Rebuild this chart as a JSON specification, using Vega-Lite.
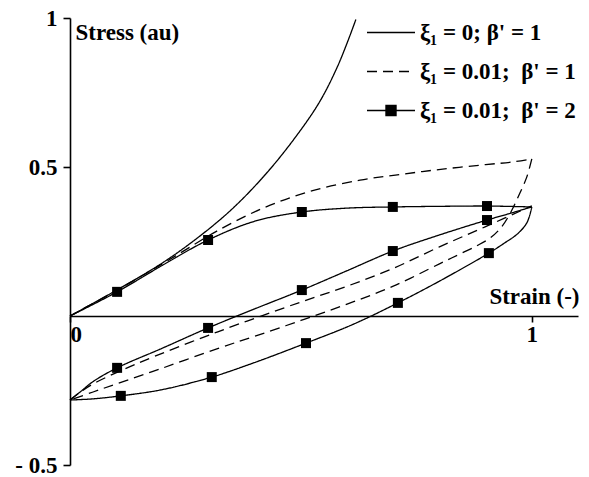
{
  "$schema": "https://vega.github.io/schema/vega-lite/v6.json",
  "width": 508,
  "height": 447,
  "autosize": {"type": "none"},
  "padding": {"left": 70, "top": 18, "right": 11, "bottom": 12},
  "background": "white",
  "datasets": {
    "curves": [
      {"s": "ξ₁ = 0; β' = 1", "b": "A1", "i": 0, "x": 0, "y": 0},
      {"s": "ξ₁ = 0; β' = 1", "b": "A1", "i": 1, "x": 0.1, "y": 0.086},
      {"s": "ξ₁ = 0; β' = 1", "b": "A1", "i": 2, "x": 0.2, "y": 0.178},
      {"s": "ξ₁ = 0; β' = 1", "b": "A1", "i": 3, "x": 0.281, "y": 0.268},
      {"s": "ξ₁ = 0; β' = 1", "b": "A1", "i": 4, "x": 0.353, "y": 0.362},
      {"s": "ξ₁ = 0; β' = 1", "b": "A1", "i": 5, "x": 0.426, "y": 0.48},
      {"s": "ξ₁ = 0; β' = 1", "b": "A1", "i": 6, "x": 0.491, "y": 0.606},
      {"s": "ξ₁ = 0; β' = 1", "b": "A1", "i": 7, "x": 0.541, "y": 0.72},
      {"s": "ξ₁ = 0; β' = 1", "b": "A1", "i": 8, "x": 0.578, "y": 0.833},
      {"s": "ξ₁ = 0; β' = 1", "b": "A1", "i": 9, "x": 0.602, "y": 0.924},
      {"s": "ξ₁ = 0; β' = 1", "b": "A1", "i": 10, "x": 0.619, "y": 0.995},

      {"s": "ξ₁ = 0.01;\u00a0\u00a0β' = 1", "b": "B1", "i": 0, "x": 0, "y": 0},
      {"s": "ξ₁ = 0.01;\u00a0\u00a0β' = 1", "b": "B1", "i": 1, "x": 0.1, "y": 0.085},
      {"s": "ξ₁ = 0.01;\u00a0\u00a0β' = 1", "b": "B1", "i": 2, "x": 0.2, "y": 0.175},
      {"s": "ξ₁ = 0.01;\u00a0\u00a0β' = 1", "b": "B1", "i": 3, "x": 0.25, "y": 0.222},
      {"s": "ξ₁ = 0.01;\u00a0\u00a0β' = 1", "b": "B1", "i": 4, "x": 0.318, "y": 0.285},
      {"s": "ξ₁ = 0.01;\u00a0\u00a0β' = 1", "b": "B1", "i": 5, "x": 0.418, "y": 0.362},
      {"s": "ξ₁ = 0.01;\u00a0\u00a0β' = 1", "b": "B1", "i": 6, "x": 0.519, "y": 0.418},
      {"s": "ξ₁ = 0.01;\u00a0\u00a0β' = 1", "b": "B1", "i": 7, "x": 0.628, "y": 0.456},
      {"s": "ξ₁ = 0.01;\u00a0\u00a0β' = 1", "b": "B1", "i": 8, "x": 0.72, "y": 0.476},
      {"s": "ξ₁ = 0.01;\u00a0\u00a0β' = 1", "b": "B1", "i": 9, "x": 0.807, "y": 0.493},
      {"s": "ξ₁ = 0.01;\u00a0\u00a0β' = 1", "b": "B1", "i": 10, "x": 0.9, "y": 0.508},
      {"s": "ξ₁ = 0.01;\u00a0\u00a0β' = 1", "b": "B1", "i": 11, "x": 0.959, "y": 0.517},
      {"s": "ξ₁ = 0.01;\u00a0\u00a0β' = 1", "b": "B1", "i": 12, "x": 1.0, "y": 0.527},

      {"s": "ξ₁ = 0.01;\u00a0\u00a0β' = 1", "b": "B2", "i": 0, "x": 1.0, "y": 0.527},
      {"s": "ξ₁ = 0.01;\u00a0\u00a0β' = 1", "b": "B2", "i": 1, "x": 0.989, "y": 0.466},
      {"s": "ξ₁ = 0.01;\u00a0\u00a0β' = 1", "b": "B2", "i": 2, "x": 0.974, "y": 0.412},
      {"s": "ξ₁ = 0.01;\u00a0\u00a0β' = 1", "b": "B2", "i": 3, "x": 0.955, "y": 0.35},
      {"s": "ξ₁ = 0.01;\u00a0\u00a0β' = 1", "b": "B2", "i": 4, "x": 0.935, "y": 0.3},
      {"s": "ξ₁ = 0.01;\u00a0\u00a0β' = 1", "b": "B2", "i": 5, "x": 0.91, "y": 0.262},
      {"s": "ξ₁ = 0.01;\u00a0\u00a0β' = 1", "b": "B2", "i": 6, "x": 0.88, "y": 0.235},
      {"s": "ξ₁ = 0.01;\u00a0\u00a0β' = 1", "b": "B2", "i": 7, "x": 0.84, "y": 0.205},
      {"s": "ξ₁ = 0.01;\u00a0\u00a0β' = 1", "b": "B2", "i": 8, "x": 0.8, "y": 0.175},
      {"s": "ξ₁ = 0.01;\u00a0\u00a0β' = 1", "b": "B2", "i": 9, "x": 0.7, "y": 0.1},
      {"s": "ξ₁ = 0.01;\u00a0\u00a0β' = 1", "b": "B2", "i": 10, "x": 0.6, "y": 0.04},
      {"s": "ξ₁ = 0.01;\u00a0\u00a0β' = 1", "b": "B2", "i": 11, "x": 0.5, "y": -0.015},
      {"s": "ξ₁ = 0.01;\u00a0\u00a0β' = 1", "b": "B2", "i": 12, "x": 0.4, "y": -0.068},
      {"s": "ξ₁ = 0.01;\u00a0\u00a0β' = 1", "b": "B2", "i": 13, "x": 0.318, "y": -0.11},
      {"s": "ξ₁ = 0.01;\u00a0\u00a0β' = 1", "b": "B2", "i": 14, "x": 0.2, "y": -0.175},
      {"s": "ξ₁ = 0.01;\u00a0\u00a0β' = 1", "b": "B2", "i": 15, "x": 0.1, "y": -0.228},
      {"s": "ξ₁ = 0.01;\u00a0\u00a0β' = 1", "b": "B2", "i": 16, "x": 0.05, "y": -0.255},
      {"s": "ξ₁ = 0.01;\u00a0\u00a0β' = 1", "b": "B2", "i": 17, "x": 0, "y": -0.282},

      {"s": "ξ₁ = 0.01;\u00a0\u00a0β' = 1", "b": "B3", "i": 0, "x": 0, "y": -0.282},
      {"s": "ξ₁ = 0.01;\u00a0\u00a0β' = 1", "b": "B3", "i": 1, "x": 0.02, "y": -0.258},
      {"s": "ξ₁ = 0.01;\u00a0\u00a0β' = 1", "b": "B3", "i": 2, "x": 0.05, "y": -0.228},
      {"s": "ξ₁ = 0.01;\u00a0\u00a0β' = 1", "b": "B3", "i": 3, "x": 0.145, "y": -0.16},
      {"s": "ξ₁ = 0.01;\u00a0\u00a0β' = 1", "b": "B3", "i": 4, "x": 0.32, "y": -0.053},
      {"s": "ξ₁ = 0.01;\u00a0\u00a0β' = 1", "b": "B3", "i": 5, "x": 0.5, "y": 0.047},
      {"s": "ξ₁ = 0.01;\u00a0\u00a0β' = 1", "b": "B3", "i": 6, "x": 0.6, "y": 0.1},
      {"s": "ξ₁ = 0.01;\u00a0\u00a0β' = 1", "b": "B3", "i": 7, "x": 0.7, "y": 0.16},
      {"s": "ξ₁ = 0.01;\u00a0\u00a0β' = 1", "b": "B3", "i": 8, "x": 0.8, "y": 0.232},
      {"s": "ξ₁ = 0.01;\u00a0\u00a0β' = 1", "b": "B3", "i": 9, "x": 0.9, "y": 0.3},
      {"s": "ξ₁ = 0.01;\u00a0\u00a0β' = 1", "b": "B3", "i": 10, "x": 1.0, "y": 0.37},

      {"s": "ξ₁ = 0.01;\u00a0\u00a0β' = 2", "b": "C1", "i": 0, "x": 0, "y": 0},
      {"s": "ξ₁ = 0.01;\u00a0\u00a0β' = 2", "b": "C1", "i": 1, "x": 0.102, "y": 0.081},
      {"s": "ξ₁ = 0.01;\u00a0\u00a0β' = 2", "b": "C1", "i": 2, "x": 0.2, "y": 0.17},
      {"s": "ξ₁ = 0.01;\u00a0\u00a0β' = 2", "b": "C1", "i": 3, "x": 0.299, "y": 0.255},
      {"s": "ξ₁ = 0.01;\u00a0\u00a0β' = 2", "b": "C1", "i": 4, "x": 0.4, "y": 0.318},
      {"s": "ξ₁ = 0.01;\u00a0\u00a0β' = 2", "b": "C1", "i": 5, "x": 0.502, "y": 0.349},
      {"s": "ξ₁ = 0.01;\u00a0\u00a0β' = 2", "b": "C1", "i": 6, "x": 0.6, "y": 0.362},
      {"s": "ξ₁ = 0.01;\u00a0\u00a0β' = 2", "b": "C1", "i": 7, "x": 0.699, "y": 0.366},
      {"s": "ξ₁ = 0.01;\u00a0\u00a0β' = 2", "b": "C1", "i": 8, "x": 0.8, "y": 0.368},
      {"s": "ξ₁ = 0.01;\u00a0\u00a0β' = 2", "b": "C1", "i": 9, "x": 0.903, "y": 0.369},
      {"s": "ξ₁ = 0.01;\u00a0\u00a0β' = 2", "b": "C1", "i": 10, "x": 1.0, "y": 0.366},

      {"s": "ξ₁ = 0.01;\u00a0\u00a0β' = 2", "b": "C2", "i": 0, "x": 1.0, "y": 0.366},
      {"s": "ξ₁ = 0.01;\u00a0\u00a0β' = 2", "b": "C2", "i": 1, "x": 0.99, "y": 0.315},
      {"s": "ξ₁ = 0.01;\u00a0\u00a0β' = 2", "b": "C2", "i": 2, "x": 0.97, "y": 0.277},
      {"s": "ξ₁ = 0.01;\u00a0\u00a0β' = 2", "b": "C2", "i": 3, "x": 0.94, "y": 0.244},
      {"s": "ξ₁ = 0.01;\u00a0\u00a0β' = 2", "b": "C2", "i": 4, "x": 0.907, "y": 0.211},
      {"s": "ξ₁ = 0.01;\u00a0\u00a0β' = 2", "b": "C2", "i": 5, "x": 0.8, "y": 0.117},
      {"s": "ξ₁ = 0.01;\u00a0\u00a0β' = 2", "b": "C2", "i": 6, "x": 0.71, "y": 0.044},
      {"s": "ξ₁ = 0.01;\u00a0\u00a0β' = 2", "b": "C2", "i": 7, "x": 0.613, "y": -0.028},
      {"s": "ξ₁ = 0.01;\u00a0\u00a0β' = 2", "b": "C2", "i": 8, "x": 0.511, "y": -0.091},
      {"s": "ξ₁ = 0.01;\u00a0\u00a0β' = 2", "b": "C2", "i": 9, "x": 0.4, "y": -0.156},
      {"s": "ξ₁ = 0.01;\u00a0\u00a0β' = 2", "b": "C2", "i": 10, "x": 0.307, "y": -0.205},
      {"s": "ξ₁ = 0.01;\u00a0\u00a0β' = 2", "b": "C2", "i": 11, "x": 0.2, "y": -0.247},
      {"s": "ξ₁ = 0.01;\u00a0\u00a0β' = 2", "b": "C2", "i": 12, "x": 0.11, "y": -0.268},
      {"s": "ξ₁ = 0.01;\u00a0\u00a0β' = 2", "b": "C2", "i": 13, "x": 0.05, "y": -0.278},
      {"s": "ξ₁ = 0.01;\u00a0\u00a0β' = 2", "b": "C2", "i": 14, "x": 0, "y": -0.282},

      {"s": "ξ₁ = 0.01;\u00a0\u00a0β' = 2", "b": "C3", "i": 0, "x": 0, "y": -0.282},
      {"s": "ξ₁ = 0.01;\u00a0\u00a0β' = 2", "b": "C3", "i": 1, "x": 0.022, "y": -0.255},
      {"s": "ξ₁ = 0.01;\u00a0\u00a0β' = 2", "b": "C3", "i": 2, "x": 0.05, "y": -0.22},
      {"s": "ξ₁ = 0.01;\u00a0\u00a0β' = 2", "b": "C3", "i": 3, "x": 0.102, "y": -0.174},
      {"s": "ξ₁ = 0.01;\u00a0\u00a0β' = 2", "b": "C3", "i": 4, "x": 0.2, "y": -0.108},
      {"s": "ξ₁ = 0.01;\u00a0\u00a0β' = 2", "b": "C3", "i": 5, "x": 0.299, "y": -0.04},
      {"s": "ξ₁ = 0.01;\u00a0\u00a0β' = 2", "b": "C3", "i": 6, "x": 0.4, "y": 0.024},
      {"s": "ξ₁ = 0.01;\u00a0\u00a0β' = 2", "b": "C3", "i": 7, "x": 0.502, "y": 0.087},
      {"s": "ξ₁ = 0.01;\u00a0\u00a0β' = 2", "b": "C3", "i": 8, "x": 0.6, "y": 0.152},
      {"s": "ξ₁ = 0.01;\u00a0\u00a0β' = 2", "b": "C3", "i": 9, "x": 0.699, "y": 0.218},
      {"s": "ξ₁ = 0.01;\u00a0\u00a0β' = 2", "b": "C3", "i": 10, "x": 0.8, "y": 0.272},
      {"s": "ξ₁ = 0.01;\u00a0\u00a0β' = 2", "b": "C3", "i": 11, "x": 0.903, "y": 0.322},
      {"s": "ξ₁ = 0.01;\u00a0\u00a0β' = 2", "b": "C3", "i": 12, "x": 0.95, "y": 0.343},
      {"s": "ξ₁ = 0.01;\u00a0\u00a0β' = 2", "b": "C3", "i": 13, "x": 1.0, "y": 0.366}
    ],
    "markers": [
      {"x": 0.102, "y": 0.081}, {"x": 0.299, "y": 0.255}, {"x": 0.502, "y": 0.349}, {"x": 0.699, "y": 0.366}, {"x": 0.903, "y": 0.369},
      {"x": 0.907, "y": 0.211}, {"x": 0.71, "y": 0.044}, {"x": 0.511, "y": -0.091}, {"x": 0.307, "y": -0.205}, {"x": 0.11, "y": -0.268},
      {"x": 0.102, "y": -0.174}, {"x": 0.299, "y": -0.04}, {"x": 0.502, "y": 0.087}, {"x": 0.699, "y": 0.218}, {"x": 0.903, "y": 0.322}
    ]
  },
  "layer": [
    {
      "data": {"name": "curves"},
      "mark": {"type": "line", "color": "black", "strokeWidth": 1.3, "interpolate": "catmull-rom"},
      "encoding": {
        "x": {"field": "x", "type": "quantitative", "scale": {"domain": [0, 1.1], "nice": false, "zero": false},
          "axis": {"orient": "bottom", "offset": -149, "values": [0, 1], "tickSize": 6, "labelPadding": 1, "labelExpr": "datum.value == 0 ? '0' : '1'",
            "title": "Strain (-)", "titleX": 509, "titleY": -20, "titleAlign": "right", "titleBaseline": "middle"}},
        "y": {"field": "y", "type": "quantitative", "scale": {"domain": [-0.5, 1], "nice": false, "zero": false},
          "axis": {"orient": "left", "values": [-0.5, 0.5, 1], "tickSize": 7, "labelPadding": 6,
            "labelExpr": "datum.value < 0 ? '- 0.5' : (datum.value == 1 ? '1' : '0.5')",
            "title": "Stress (au)", "titleAngle": 0, "titleX": 5, "titleY": 14, "titleAlign": "left", "titleBaseline": "middle"}},
        "detail": {"field": "b", "type": "nominal"},
        "order": {"field": "i", "type": "quantitative"},
        "strokeDash": {
          "field": "s", "type": "nominal",
          "scale": {"domain": ["ξ₁ = 0; β' = 1", "ξ₁ = 0.01;\u00a0\u00a0β' = 1", "ξ₁ = 0.01;\u00a0\u00a0β' = 2"], "range": [[1, 0], [10, 6], [1, 0]]},
          "legend": {
            "orient": "none", "legendX": 296, "legendY": -5, "title": null, "padding": 0,
            "symbolType": "stroke", "symbolSize": 2304, "symbolStrokeWidth": 1.3, "symbolStrokeColor": "black",
            "labelFont": "Liberation Serif", "labelFontSize": 23, "labelFontWeight": "bold", "labelColor": "black", "labelOffset": 4, "labelLimit": 300,
            "clipHeight": 39, "rowPadding": 0,
            "encode": {"symbols": {"update": {
              "shape": {"signal": "datum.index === 2 ? 'M-1,0H1M-0.21,-0.21H0.21V0.21H-0.21Z' : 'M-1,0H1'"},
              "fill": {"signal": "datum.index === 2 ? 'black' : 'transparent'"},
              "stroke": {"value": "black"},
              "strokeWidth": {"value": 1.3},
              "strokeDash": {"signal": "datum.index === 1 ? [12, 6] : [1, 0]"},
              "opacity": {"value": 1}
            }}}
          }
        }
      }
    },
    {
      "data": {"name": "markers"},
      "mark": {"type": "square", "color": "black", "size": 100, "opacity": 1, "filled": true},
      "encoding": {
        "x": {"field": "x", "type": "quantitative"},
        "y": {"field": "y", "type": "quantitative"}
      }
    }
  ],
  "config": {
    "view": {"stroke": null},
    "font": "Liberation Serif",
    "axis": {
      "grid": false, "domainColor": "black", "domainWidth": 1.6, "tickColor": "black", "tickWidth": 1.6,
      "labelFont": "Liberation Serif", "labelFontSize": 23, "labelFontWeight": "bold", "labelColor": "black",
      "titleFont": "Liberation Serif", "titleFontSize": 23, "titleFontWeight": "bold", "titleColor": "black"
    }
  }
}
